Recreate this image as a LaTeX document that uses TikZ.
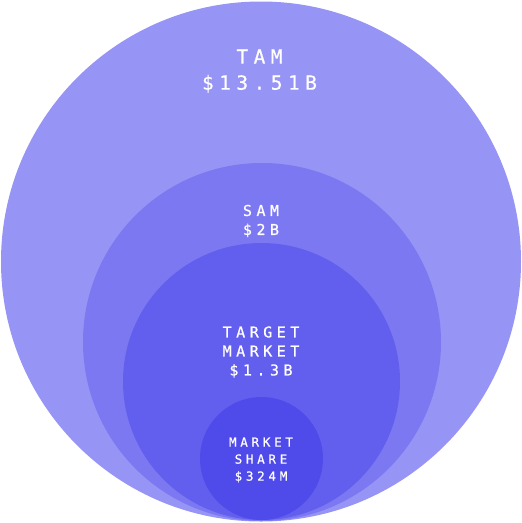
\documentclass[tikz,border=0pt]{standalone}
\usepackage{fontspec}
\setmonofont{DejaVu Sans Mono}
\newfontfamily\lblA[LetterSpace=28,FakeBold=0.6]{DejaVu Sans Mono}
\newfontfamily\lblB[LetterSpace=30,FakeBold=0.6]{DejaVu Sans Mono}
\definecolor{tamc}{RGB}{150,148,245}
\definecolor{samc}{RGB}{124,120,241}
\definecolor{tgtc}{RGB}{99,95,238}
\definecolor{shrc}{RGB}{79,74,234}
\tikzset{
  lbl/.style={text=white, align=center, inner sep=0pt},
}
\begin{document}
\begin{tikzpicture}[x=1pt,y=-1pt]
\useasboundingbox (0,0) rectangle (522,523);
\fill[tamc] (261,261.5) circle (260);
\fill[samc] (262,342) circle (179);
\fill[tgtc] (261.5,381.5) circle (138.5);
\fill[shrc] (261.5,458.5) circle (61.5);
\node[lbl, font={\lblA\fontsize{19.5}{26}\selectfont}] (tam) at (259.5,71) {TAM\\\$13.51B};
\node[lbl, font={\lblB\fontsize{15}{19}\selectfont}] (sam) at (261,221) {SAM\\\$2B};
\node[lbl, font={\lblB\fontsize{15}{19}\selectfont}] (tgt) at (261,352) {TARGET\\MARKET\\\$1.3B};
\node[lbl, font={\lblB\fontsize{12.5}{17}\selectfont}] (shr) at (261,460) {MARKET\\SHARE\\\$324M};
\end{tikzpicture}
\end{document}
